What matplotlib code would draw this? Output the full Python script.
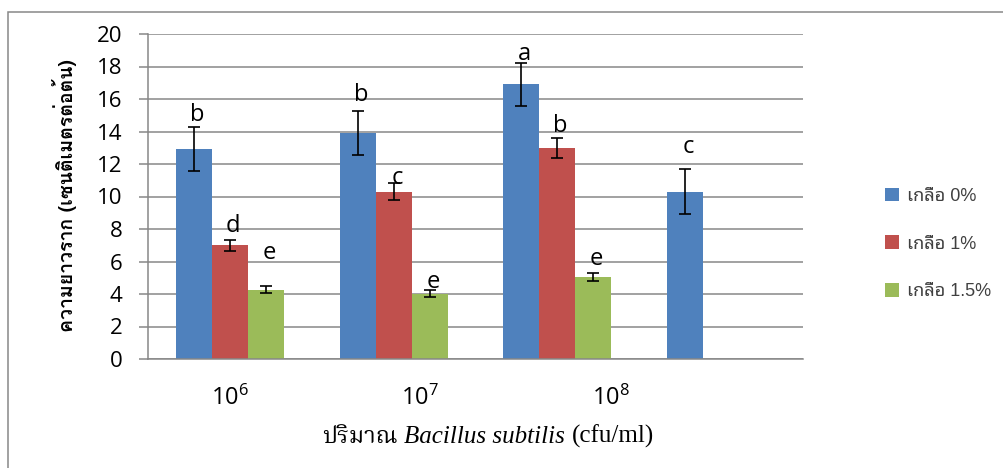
import matplotlib
matplotlib.use("Agg")
import numpy as np
import matplotlib.pyplot as plt
from matplotlib.offsetbox import TextArea, HPacker, AnchoredOffsetbox
from matplotlib.patches import Rectangle
from matplotlib.font_manager import FontProperties

# data
groups = [r"$\mathregular{10^6}$", r"$\mathregular{10^7}$", r"$\mathregular{10^8}$"]
salt0 = [12.9, 13.9, 16.9, 10.3]
err0 = [1.36, 1.37, 1.33, 1.37]
salt1 = [7.0, 10.3, 13.0]
err1 = [0.35, 0.52, 0.63]
salt15 = [4.27, 4.03, 5.02]
err15 = [0.2, 0.2, 0.25]
letters0 = ["b", "b", "a", "c"]
letters1 = ["d", "c", "b"]
letters15 = ["e", "e", "e"]
# baseline height of each letter as placed in the original
letter_y0 = [14.67, 15.85, 18.4, 12.65]
letter_y1 = [7.82, 10.8, 14.0]
letter_y15 = [6.18, 4.38, 5.78]
names = ["เกลือ 0%", "เกลือ 1%", "เกลือ 1.5%"]
colors = ["#4F81BD", "#C0504D", "#9BBB59"]

W, H = 1004, 468
fig = plt.figure(figsize=(W / 100, H / 100), dpi=100)
ax = fig.add_axes([148 / W, 1 - 359 / H, (803 - 148) / W, (359 - 34) / H])

grey = "#878787"
bw = 0.22
series = [(salt0, err0, letters0, letter_y0),
          (salt1, err1, letters1, letter_y1),
          (salt15, err15, letters15, letter_y15)]
for k, (vals, errs, lets, ly) in enumerate(series):
    xs = np.arange(len(vals)) + (k - 1) * bw
    ax.bar(xs, vals, bw, color=colors[k], label=names[k], zorder=2)
    ax.errorbar(xs, vals, yerr=errs, fmt="none", ecolor="black",
                elinewidth=1.2, capsize=4.5, capthick=1.2, zorder=3)
    for xi, l, y in zip(xs, lets, ly):
        ax.text(xi + 0.02, y, l, ha="center", va="baseline", fontsize=17,
                family="Open Sans", zorder=4)

ax.set_xlim(-0.5, 3.5)
ax.set_ylim(0, 20)
ax.set_yticks(range(0, 21, 2))
ax.yaxis.grid(True, color=grey, lw=1.1)
ax.set_axisbelow(True)
for s in ["top", "right"]:
    ax.spines[s].set_visible(False)
for s in ["left", "bottom"]:
    ax.spines[s].set_color(grey)
    ax.spines[s].set_linewidth(1.1)
ax.tick_params(axis="y", length=6.5, width=1.1, color=grey, labelsize=16, pad=12)
ax.tick_params(axis="x", length=0, labelbottom=False)
for t in ax.get_yticklabels():
    t.set_fontfamily("Open Sans")

# category labels were placed by hand in the original
label_pos = [0.0, 1.16, 2.33]
for p, g in zip(label_pos, groups):
    ax.text(p, -2.83, g, ha="center", va="baseline", fontsize=17,
            family="Open Sans", clip_on=False)

fig.text(65 / W, 1 - 196 / H, "ความยาวราก (เซนติเมตรต่อต้น)", rotation=90,
         ha="center", va="center", fontsize=14, fontweight="bold",
         family=["Loma", "Noto Sans Thai Looped", "DejaVu Sans"])

t1 = TextArea("ปริมาณ", textprops=dict(family=["Noto Serif Thai", "DejaVu Serif"], fontsize=17))
t2 = TextArea("Bacillus subtilis", textprops=dict(family="Liberation Serif", style="italic", fontsize=18))
t3 = TextArea("(cfu/ml)", textprops=dict(family="Liberation Serif", fontsize=18))
pack = HPacker(children=[t1, t2, t3], align="baseline", pad=0, sep=5)
ab = AnchoredOffsetbox(loc="center", child=pack, bbox_to_anchor=(488 / W, 1 - 437 / H),
                       bbox_transform=fig.transFigure, frameon=False, pad=0, borderpad=0)
fig.add_artist(ab)

handles, labels = ax.get_legend_handles_labels()
fig.legend(handles, labels, loc="center left", bbox_to_anchor=(876 / W, 1 - 244 / H),
           frameon=False, prop=FontProperties(family=["Liberation Sans", "Noto Sans Thai Looped"], size=13),
           handlelength=0.8, handleheight=0.8, handletextpad=0.4, labelspacing=1.7,
           borderpad=0, labelcolor="#404040")

fig.add_artist(Rectangle((8.5 / W, -0.1), 1.2, 1 - 11.5 / H + 0.1, transform=fig.transFigure,
                         fill=False, edgecolor="#888888", lw=1.1))

fig.savefig("out.png", dpi=100)
